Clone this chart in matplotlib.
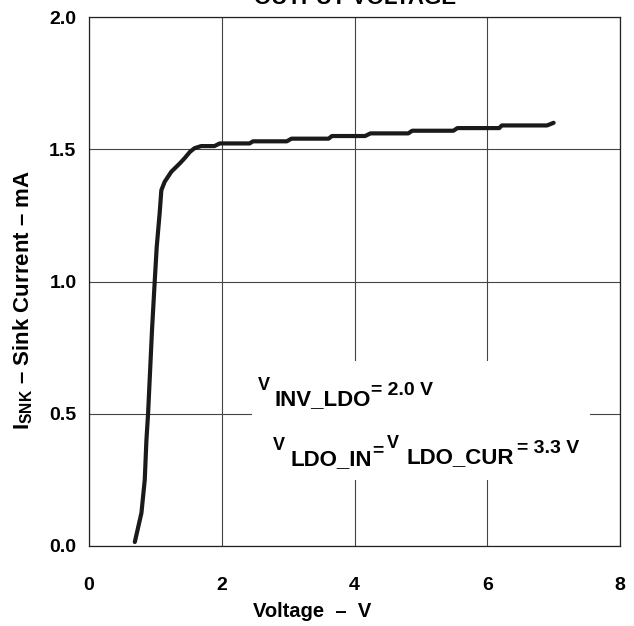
import matplotlib
matplotlib.use("Agg")
import matplotlib.pyplot as plt
from matplotlib.patches import Rectangle

plt.rcParams['font.family'] = 'Liberation Sans'
plt.rcParams['font.weight'] = 'bold'
plt.rcParams['axes.labelweight'] = 'bold'
plt.rcParams['mathtext.fontset'] = 'custom'
plt.rcParams['mathtext.rm'] = 'Liberation Sans:bold'
plt.rcParams['mathtext.it'] = 'Liberation Sans:bold'
plt.rcParams['mathtext.bf'] = 'Liberation Sans:bold'

# sink current vs output voltage
voltage = [0.69, 0.79, 0.84, 0.865, 0.89, 0.92, 0.95, 0.99, 1.02, 1.065, 1.09, 1.14,
           1.24, 1.37, 1.44, 1.52, 1.59, 1.69, 1.89, 1.97, 2.42, 2.47, 2.98, 3.05,
           3.61, 3.66, 4.16, 4.24, 4.81, 4.87, 5.49, 5.55, 6.18, 6.22, 6.90, 7.0]
current = [0.015, 0.125, 0.25, 0.40, 0.50, 0.66, 0.82, 1.0, 1.13, 1.26, 1.345, 1.377,
           1.415, 1.447, 1.466, 1.49, 1.504, 1.512, 1.512, 1.522, 1.522, 1.53, 1.53, 1.54,
           1.54, 1.55, 1.55, 1.56, 1.56, 1.57, 1.57, 1.58, 1.58, 1.59, 1.59, 1.60]

xticks = [0, 2, 4, 6, 8]
yticks = [0.0, 0.5, 1.0, 1.5, 2.0]
ytick_labels = ['0.0', '0.5', '1.0', '1.5', '2.0']

W, H = 634, 626
fig = plt.figure(figsize=(W / 100, H / 100), dpi=100)
ax = fig.add_axes([89 / W, 1 - 546 / H, (620 - 89) / W, (546 - 17) / H])

ax.set_xlim(0, 8)
ax.set_ylim(0, 2.0)
ax.set_xticks(xticks)
ax.set_yticks(yticks)
ax.set_yticklabels(ytick_labels)
ax.tick_params(axis='x', length=0, pad=22, labelsize=14)
ax.tick_params(axis='y', length=0, pad=9, labelsize=14)
ax.set_axisbelow(True)
ax.grid(True, color='#444444', linewidth=0.8)
for s in ax.spines.values():
    s.set_color('#222222')
    s.set_linewidth(0.9)

# white box behind the conditions text
ax.add_patch(Rectangle((2.45, 0.25), 5.1, 0.45, facecolor='white',
                       edgecolor='none', zorder=1))

ax.plot(voltage, current, color='#1a1a1a', linewidth=3.0,
        solid_capstyle='round', solid_joinstyle='round', zorder=3)

ax.set_xlabel('Voltage  –  V', fontsize=14.5)
ax.xaxis.set_label_coords((312 - 89) / 531, (546 - 602) / 529)
ax.set_ylabel(r'$\mathregular{I_{SNK}}$ – Sink Current – mA', fontsize=16)
ax.yaxis.set_label_coords((35 - 89) / 531, (546 - 300) / 529)

fig.text(355 / W, 1 - 4 / H, 'OUTPUT VOLTAGE', ha='center', va='baseline',
         fontsize=16)


def text_run(pieces, x_px, renderer):
    # pieces: (text, fontsize, baseline y in pixels from top, gap before)
    x = x_px
    for s, size, base, gap in pieces:
        x += gap
        t = fig.text(x / W, 1 - base / H, s, fontsize=size, ha='left', va='baseline')
        x = t.get_window_extent(renderer).x1


renderer = fig.canvas.get_renderer()
text_run([('V', 13, 390, 0), ('INV_LDO', 16, 405, 4), ('= 2.0 V', 14, 395, 1)],
         258, renderer)
text_run([('V', 13, 450, 0), ('LDO_IN', 16, 465, 5), ('=', 14, 455, 1),
          ('V', 13, 448, 3), ('LDO_CUR', 16, 463, 8), ('= 3.3 V', 14, 453, 3)],
         273, renderer)

fig.savefig('out.png', dpi=100)
